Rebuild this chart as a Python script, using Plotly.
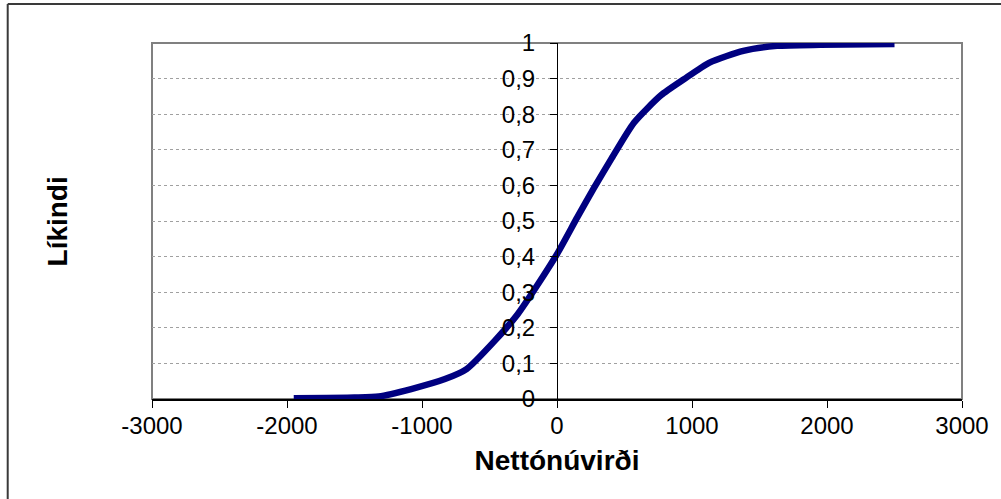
import plotly.graph_objects as go

# Nettónúvirði (x) and cumulative probability (y)
npv = [-1950, -1500, -1320, -1080, -830, -670, -460, -290, -140, 0,
       150, 275, 400, 570, 770, 940, 1130, 1380, 1630, 1950, 2500]
prob = [0.002, 0.004, 0.007, 0.028, 0.056, 0.084, 0.164, 0.239, 0.323, 0.407,
        0.51, 0.594, 0.673, 0.776, 0.853, 0.898, 0.945, 0.978, 0.992, 0.995, 0.997]

x_ticks = [-3000, -2000, -1000, 0, 1000, 2000, 3000]
x_tick_text = ["-3000", "-2000", "-1000", "0", "1000", "2000", "3000"]
y_ticks = [0, 0.1, 0.2, 0.3, 0.4, 0.5, 0.6, 0.7, 0.8, 0.9, 1]
y_tick_text = ["0", "0,1", "0,2", "0,3", "0,4", "0,5", "0,6", "0,7", "0,8", "0,9", "1"]

W, H = 1001, 499
L, R, T, B = 152, 35, 43, 100
FONT = "Liberation Sans, Arial, sans-serif"


def px(x):
    return (x - L) / (W - L - R)


def py(y):
    return (H - B - y) / (H - T - B)


fig = go.Figure()

fig.add_trace(go.Scatter(
    x=npv,
    y=prob,
    mode="lines",
    line=dict(color="#000080", width=6.5, shape="spline", smoothing=0.6),
    hoverinfo="x+y",
    showlegend=False,
))

# plot area frame (grey) and outer chart frame (only top/left visible)
fig.add_shape(type="rect", xref="paper", yref="paper", x0=0, x1=1, y0=0, y1=1,
              line=dict(color="#808080", width=2), layer="below")
fig.add_shape(type="line", xref="paper", yref="paper",
              x0=px(7), x1=px(1010), y0=py(4), y1=py(4),
              line=dict(color="#3a3a3a", width=2))
fig.add_shape(type="line", xref="paper", yref="paper",
              x0=px(7), x1=px(7), y0=py(4), y1=py(510),
              line=dict(color="#3a3a3a", width=2))

fig.update_layout(
    width=W,
    height=H,
    margin=dict(l=L, r=R, t=T, b=B),
    paper_bgcolor="white",
    plot_bgcolor="white",
    font=dict(family=FONT, size=24, color="black"),
)

fig.update_xaxes(
    range=[-3000, 3000],
    tickvals=x_ticks,
    ticktext=x_tick_text,
    ticks="outside",
    ticklen=7,
    tickcolor="black",
    ticklabelstandoff=-3,
    showline=True,
    linecolor="black",
    linewidth=1.5,
    showgrid=False,
    zeroline=False,
    title=dict(text="<b>Nettónúvirði</b>", font=dict(size=28), standoff=13),
)

fig.update_yaxes(
    range=[0, 1],
    anchor="free",
    position=0.5,
    tickvals=y_ticks,
    ticktext=y_tick_text,
    ticks="outside",
    ticklen=7,
    tickcolor="black",
    ticklabelstandoff=10,
    showline=True,
    linecolor="black",
    linewidth=1,
    showgrid=True,
    gridcolor="#a0a0a0",
    griddash="dot",
    gridwidth=1,
    zeroline=False,
)

fig.add_annotation(
    text="<b>Líkindi</b>", xref="paper", yref="paper",
    x=px(57), y=0.5, xanchor="center", yanchor="middle",
    textangle=-90, showarrow=False,
    font=dict(family=FONT, size=28),
)

# drop the default page margin so the figure sits at the window's top-left
fig.write_html("out.html", config={"displayModeBar": False},
               post_script="document.body.style.margin='0';")
